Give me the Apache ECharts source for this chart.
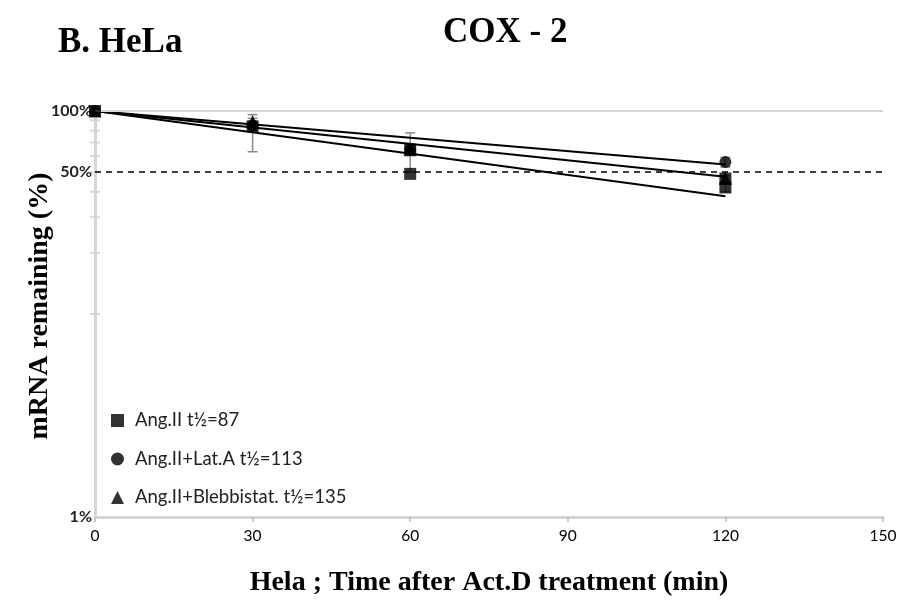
<!DOCTYPE html>
<html><head><meta charset="utf-8">
<script src="https://cdn.jsdelivr.net/npm/echarts@6/dist/echarts.min.js"></script>
<style>html,body{margin:0;padding:0;background:#fff}#c{width:908px;height:602px}</style>
</head><body><div id="c"></div>
<script>
// ---- data ----
const angIItimes = [0, 30, 60, 60, 120, 120];
const angII = [100, 84, 64.5, 49, 46.5, 42];
const times = [0, 30, 60, 120];
const latA = [100, 85, 64.5, 56];
const blebb = [100, 88.5, 64.5, 46.5];
const names = ['Ang.II t½=87', 'Ang.II+Lat.A t½=113', 'Ang.II+Blebbistat. t½=135'];
// trend line values at t=0 and t=120 (exponential fits, straight on log axis)
const trendStart = [100, 100, 100];
const trendEnd120 = [38, 47.5, 54.5];
// error bars: [time, low, high]
const errBars = [[30, 63, 96], [30, 80, 92], [60, 50, 78], [120, 53, 59], [120, 40, 48]];
const minorTicks = [90, 80, 70, 60, 50, 40, 30, 20, 10];
const xTicks = {min: 0, max: 150, step: 30};
const yAxisTitle = 'mRNA remaining (%)';

const chart = echarts.init(document.getElementById('c'));
const sansFont = 'Lato';
const serif = 'Liberation Serif';

function pts(ts, arr) { return ts.map((t, i) => [t, arr[i]]); }

const option = {
  animation: false,
  backgroundColor: '#fff',
  title: [
    {text: 'B. HeLa', left: 53, top: 20, textStyle: {fontFamily: serif, fontWeight: 'bold', fontSize: 35, color: '#000'}},
    {text: 'COX - 2', left: 438, top: 10, textStyle: {fontFamily: serif, fontWeight: 'bold', fontSize: 35, color: '#000'}}
  ],
  graphic: [{
    type: 'text', x: 40, y: 306, rotation: Math.PI / 2,
    style: {text: yAxisTitle, fontFamily: serif, fontWeight: 'bold', fontSize: 28, fill: '#000',
      textAlign: 'center', textVerticalAlign: 'middle'}
  }],
  legend: {
    orient: 'vertical', left: 106, top: 406, itemGap: 19.5, itemWidth: 13, itemHeight: 13,
    data: [{name: names[0], icon: 'rect'}, {name: names[1], icon: 'circle'}, {name: names[2], icon: 'triangle'}],
    textStyle: {fontFamily: sansFont, fontSize: 18.5, color: '#222', padding: [0, 0, 0, 6]}
  },
  grid: {left: 95, right: 25, top: 111, bottom: 81},
  xAxis: {
    type: 'value', min: xTicks.min, max: xTicks.max, interval: xTicks.step,
    name: 'Hela ; Time after Act.D treatment (min)', nameLocation: 'middle', nameGap: 52,
    nameTextStyle: {fontFamily: serif, fontWeight: 'bold', fontSize: 28, color: '#000'},
    axisLine: {lineStyle: {color: '#d6d6d6', width: 3}},
    axisTick: {show: true, length: 5, lineStyle: {color: '#bbb', width: 1.5}},
    axisLabel: {fontFamily: sansFont, fontSize: 15.5, color: '#000', margin: 11},
    splitLine: {show: false}
  },
  yAxis: {
    type: 'log', logBase: 10, min: 1, max: 100,
    axisLine: {show: true, lineStyle: {color: '#d6d6d6', width: 3}},
    axisTick: {show: false},
    axisLabel: {fontFamily: sansFont, fontSize: 16, fontWeight: 'bold', color: '#222', margin: 3,
      formatter: v => (Math.abs(v - 100) < 1e-6 ? '100%' : (Math.abs(v - 1) < 1e-6 ? '1%' : ''))},
    splitLine: {show: false}
  },
  series: [
    // minor ticks on y axis + reference lines
    {type: 'scatter', silent: true, data: minorTicks.map(v => [0, v]), symbol: 'rect', symbolSize: [10, 2],
      itemStyle: {color: '#d0d0d0'}, z: 1, markLine: {
        silent: true, symbol: 'none', animation: false,
        data: [
          {yAxis: 100, lineStyle: {color: '#d6d6d6', width: 2, type: 'solid'}, label: {show: false}},
          {yAxis: 50, lineStyle: {color: '#000', width: 1.6, type: [6, 5]},
            label: {show: true, position: 'start', formatter: '50%', fontFamily: sansFont, fontSize: 16, fontWeight: 'bold', color: '#222', distance: 3}}
        ]
      }},
    // trend lines
    ...trendEnd120.map((e, i) => ({
      type: 'line', silent: true, showSymbol: false, symbol: 'none',
      data: [[0, trendStart[i]], [120, e]], lineStyle: {color: '#000', width: 2}, z: 3
    })),
    // error bars
    {type: 'custom', silent: true, z: 2,
      renderItem: function (params, api) {
        const x = api.value(0);
        const lo = api.coord([x, api.value(1)]);
        const hi = api.coord([x, api.value(2)]);
        const cap = 5;
        const st = {stroke: '#8a8a8a', lineWidth: 1.5};
        return {type: 'group', children: [
          {type: 'line', shape: {x1: lo[0], y1: lo[1], x2: hi[0], y2: hi[1]}, style: st},
          {type: 'line', shape: {x1: lo[0] - cap, y1: lo[1], x2: lo[0] + cap, y2: lo[1]}, style: st},
          {type: 'line', shape: {x1: hi[0] - cap, y1: hi[1], x2: hi[0] + cap, y2: hi[1]}, style: st}
        ]};
      },
      data: errBars},
    {name: names[2], type: 'scatter', data: pts(times, blebb), symbol: 'triangle', symbolSize: 13, itemStyle: {color: '#000'}, z: 4},
    {name: names[1], type: 'scatter', data: pts(times, latA), symbol: 'circle', symbolSize: 12, itemStyle: {color: '#000'}, z: 4},
    {name: names[0], type: 'scatter', data: pts(angIItimes, angII), symbol: 'rect', symbolSize: 12, itemStyle: {color: '#000'}, z: 5}
  ]
};
chart.setOption(option);
</script></body></html>
